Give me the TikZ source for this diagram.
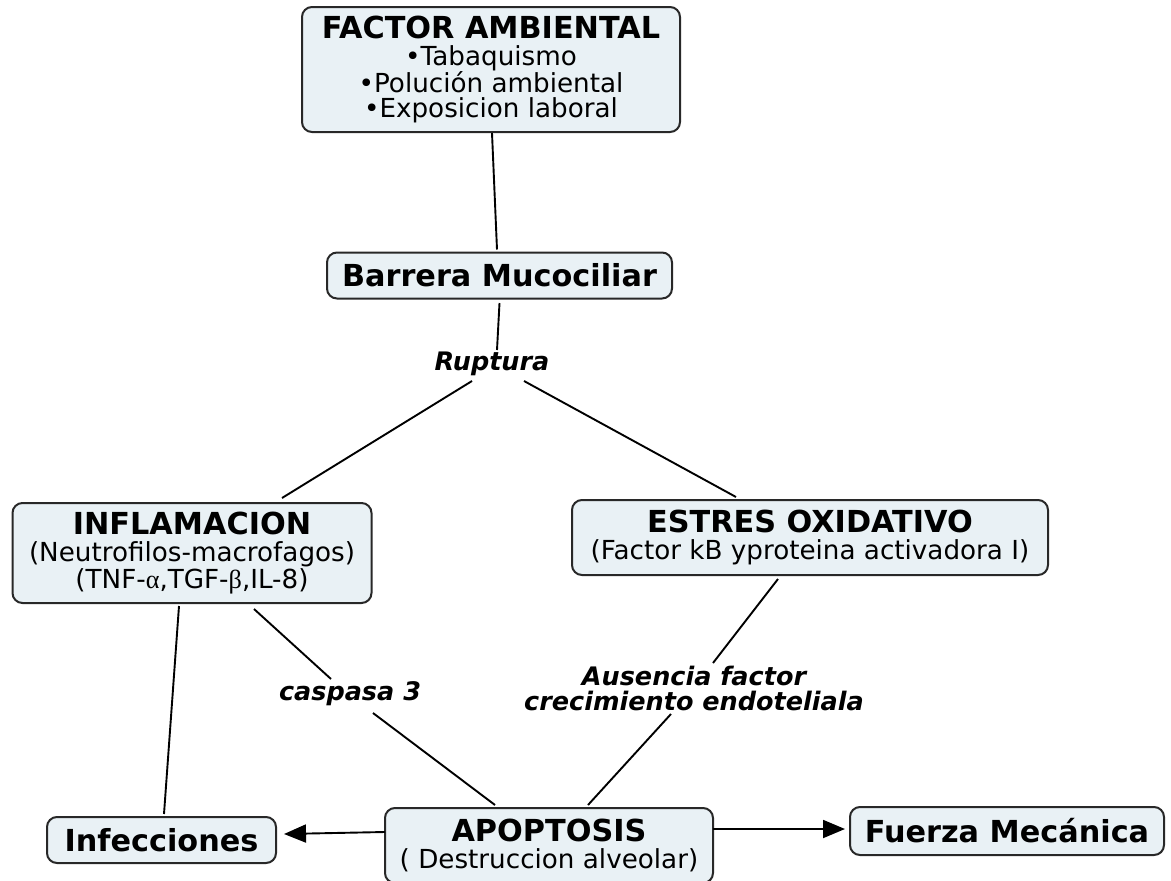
\documentclass[tikz,border=0pt]{standalone}
\usepackage{fontspec}
\setmainfont{DejaVu Sans}
\newfontfamily\grk{Liberation Serif}
\usetikzlibrary{calc,arrows.meta}
\definecolor{boxfill}{RGB}{233,241,245}
\definecolor{boxline}{RGB}{40,40,40}
\newcommand\ttl[1]{{\fontsize{30.3}{25}\selectfont\bfseries #1}}
\begin{document}
\begin{tikzpicture}[x=1pt,y=-1pt,
  box/.style={draw=boxline, line width=2pt, fill=boxfill, rounded corners=10pt,
    align=center, inner sep=0pt, font=\fontsize{26.2}{25}\selectfont},
  lbl/.style={font=\fontsize{25.5}{25}\selectfont\bfseries\itshape, align=center, inner sep=0pt},
  conn/.style={line width=1.9pt, black},
  arr/.style={conn, -{Triangle[length=22pt,width=18pt]}}]
\useasboundingbox[fill=white] (0,0) rectangle (1171,881);

\node[box, minimum width=378pt, minimum height=125pt] (fa) at (491,69.5)
  {\ttl{FACTOR AMBIENTAL}\\[2pt] •Tabaquismo\\ •Polución ambiental\\ •Exposicion laboral};
\node[box, minimum width=345pt, minimum height=46pt] (bm) at (499.5,275.5)
  {\ttl{Barrera Mucociliar}};
\node[lbl] (rup) at (492,364) {Ruptura};
\node[box, minimum width=359pt, minimum height=100pt] (inf) at (192,553)
  {\ttl{INFLAMACION}\\[2pt] (Neutrofilos-macrofagos)\\ (TNF-{\grk α},TGF-{\grk β},IL-8)};
\node[box, minimum width=476pt, minimum height=75pt] (eo) at (810,537.5)
  {\ttl{ESTRES OXIDATIVO}\\[2pt] (Factor kB yproteina activadora I)};
\node[lbl] (cas) at (350,694) {caspasa 3};
\node[lbl] (aus) at (694,688) {Ausencia factor\\crecimiento endoteliala};
\node[box, minimum width=229pt, minimum height=46pt] (infc) at (161.5,840)
  {\ttl{Infecciones}};
\node[box, minimum width=328pt, minimum height=75pt] (apo) at (549,845.5)
  {\ttl{APOPTOSIS}\\[2pt] ( Destruccion alveolar)};
\node[box, minimum width=314pt, minimum height=48pt] (fm) at (1007,831)
  {\ttl{Fuerza Mecánica}};

\draw[conn] ($(fa.south)+(1,0)$) -- ($(bm.north)+(-2.5,-2)$);
\draw[conn] ($(bm.south)+(0,3.5)$) -- ($(rup.center)+(5,-14)$);
\draw[conn] ($(rup.center)+(-20,17)$) -- ($(inf.center)+(90,-55)$);
\draw[conn] ($(rup.center)+(32,17)$) -- ($(eo.center)+(-74,-40.5)$);
\draw[conn] ($(inf.center)+(-13,53)$) -- ($(infc.center)+(2.5,-26)$);
\draw[conn] ($(inf.center)+(62,56)$) -- ($(cas.center)+(-19,-15)$);
\draw[conn] ($(cas.center)+(23,19)$) -- ($(apo.center)+(-54,-40.5)$);
\draw[conn] ($(eo.center)+(-32,41.5)$) -- ($(aus.center)+(19,-25)$);
\draw[conn] ($(aus.center)+(-23,26)$) -- ($(apo.center)+(39,-40.5)$);
\draw[arr] ($(apo.center)+(-164,-13.5)$) -- ($(infc.center)+(122.5,-6)$);
\draw[arr] ($(apo.center)+(164,-16.5)$) -- ($(fm.center)+(-162,-2)$);
\end{tikzpicture}
\end{document}
